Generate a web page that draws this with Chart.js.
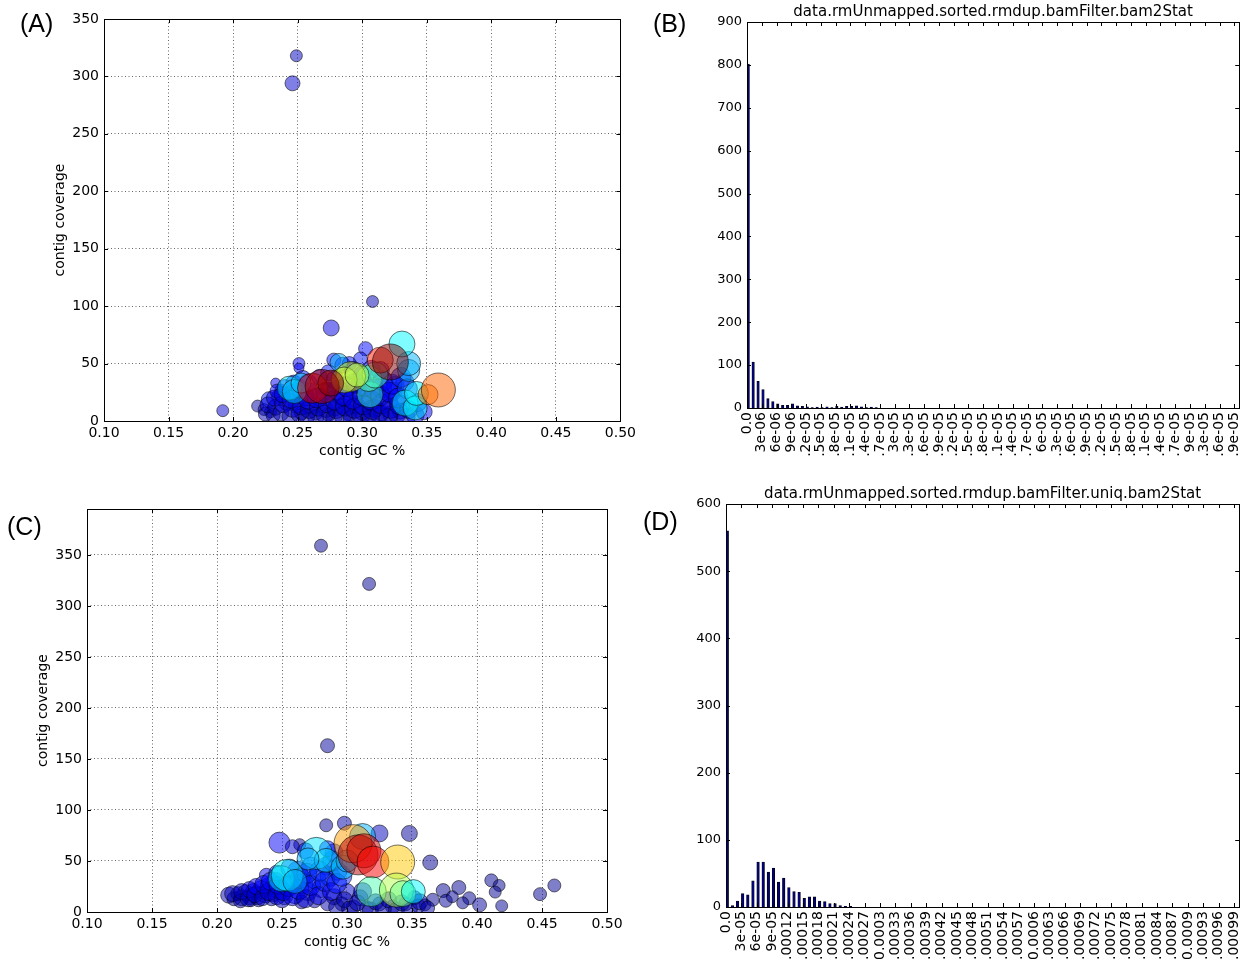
<!DOCTYPE html>
<html><head><meta charset="utf-8">
<script src="https://cdn.jsdelivr.net/npm/chart.js@4.4.0/dist/chart.umd.min.js"></script>
<style>
html,body{margin:0;padding:0;background:#fff;overflow:hidden;width:1250px;height:961px;position:relative;}
canvas{position:absolute;}
.lbl{position:absolute;font-family:"Liberation Sans",Arial,sans-serif;font-size:25px;line-height:1;color:#000;}
</style></head><body>
<canvas id="cA" width="640" height="470" style="left:0;top:0"></canvas>
<canvas id="cB" width="620" height="457" style="left:640px;top:0"></canvas>
<canvas id="cC" width="640" height="481" style="left:0;top:480px"></canvas>
<canvas id="cD" width="620" height="481" style="left:640px;top:480px"></canvas>
<div class="lbl" style="left:20px;top:11px">(A)</div>
<div class="lbl" style="left:653px;top:11px">(B)</div>
<div class="lbl" style="left:7px;top:514px">(C)</div>
<div class="lbl" style="left:643px;top:509px">(D)</div>
<script>
// ---------- Panel A: contig GC % vs coverage ----------
const gcA  = [0.192,0.246,0.249,0.308,0.276,
  0.219,0.224,0.229,0.233,0.237,0.228,0.236,0.242,0.251,0.251,0.253,0.249,0.259,0.264,0.272,0.279,0.274,0.285,0.290,0.295,0.300,0.305,0.310,0.315,0.3205,0.322,0.324,0.3295,0.315,0.3026,0.278,0.285,0.2987,0.3256,0.333,0.274,0.295,0.285,0.267,0.256,0.246,0.290,
  0.225,0.227, 0.231,0.233,0.232,0.234, 0.237,0.239,0.238,0.240, 0.244,0.246,0.245,0.247, 0.251,0.253,0.252,0.254, 0.257,0.259,0.258,0.260,0.258,
  0.264,0.266,0.265,0.267, 0.271,0.273,0.272,0.274, 0.278,0.280,0.279,0.281,0.279, 0.285,0.287,0.286,0.288,
  0.292,0.294,0.293,0.295,0.293, 0.299,0.301,0.300,0.302,0.300, 0.306,0.308,0.307,0.309,0.307, 0.313,0.315,0.314,0.316,0.314,
  0.320,0.322,0.321,0.323, 0.327,0.329,0.328,0.330, 0.334,0.336,0.335, 0.341,0.343, 0.348,
  0.336,0.2436,0.2474,0.2526,0.282,0.336,0.3308,0.3333,0.341,0.342,0.351,0.359,0.306,0.305,0.310,0.291,0.286,0.296,0.2615,0.269,0.2756,0.314,0.3218];
const covA = [9,294,318,104,81,
  13,10,8,33,27,18.6,21,17,50,46,7,14,14,7,10,11.4,5.7,13,7,14,8.6,4,11,7,17,6,26,8.6,28.6,63,53,48.6,54,31,34,26,26,21,21,21,24,50,
  6,14, 5,12,20,26, 7,15,23,30, 4,11,19,33, 6,13,28,37, 4,10,18,25,33,
  3,12,20,38, 6,15,25,42, 3,10,18,27,36, 5,13,22,30,
  2,11,19,33,44, 5,14,22,30,40, 2,10,18,28,45, 6,15,22,35,44,
  3,11,25,32, 6,14,20,38, 3,10,28, 5,16, 8,
  44,28.6,25.7,33,51,50,67,15.7,11.4,24,23,27,23,37,40,38.6,35.7,40,28.6,30,33,53,51.4];
const sizeA = [6,7.5,6,6,8,
  6,6,6,5,6,8,8,9,6,5,7,8,9,7,8,8,7,8,8,9,9,8,9,8,9,8,9,8,10,7,7,8,7,9,9,9,10,10,9,9,9,7,
  7,8, 7,8,8,7, 8,9,8,7, 8,9,9,8, 8,9,9,8, 8,9,9,9,9,
  8,9,10,8, 9,9,10,8, 8,9,10,10,9, 9,10,10,10,
  9,10,10,10,9, 9,10,10,10,9, 9,10,10,10,9, 9,10,10,10,9,
  9,10,10,10, 9,10,10,10, 9,9,10, 9,9, 8,
  11,12,12,10,9,12,13,13,12,12,10,17,13,13,13,15,13,12,15,17,13,13,18];
const colA = [0.075,0.075,0.06,0.05,0.1,
  0.04,0.05,0.04,0.12,0.15,0.15,0.14,0.13,0.12,0.12,0.06,0.12,0.13,0.06,0.08,0.1,0.05,0.12,0.08,0.13,0.1,0.06,0.12,0.09,0.14,0.08,0.15,0.1,0.15,0.13,0.14,0.15,0.14,0.16,0.18,0.14,0.15,0.14,0.14,0.13,0.13,0.14,
  0.05,0.09, 0.05,0.07,0.1,0.12, 0.06,0.09,0.11,0.13, 0.05,0.08,0.1,0.13, 0.06,0.09,0.12,0.14, 0.05,0.07,0.1,0.11,0.13,
  0.05,0.08,0.1,0.13, 0.06,0.09,0.11,0.14, 0.05,0.07,0.1,0.11,0.13, 0.06,0.09,0.1,0.12,
  0.05,0.07,0.1,0.12,0.14, 0.06,0.09,0.1,0.12,0.14, 0.05,0.07,0.1,0.11,0.14, 0.07,0.09,0.1,0.13,0.15,
  0.06,0.09,0.11,0.13, 0.08,0.1,0.12,0.16, 0.08,0.11,0.2, 0.1,0.2, 0.12,
  0.3,0.35,0.33,0.32,0.3,0.3,0.37,0.37,0.38,0.36,0.75,0.78,0.42,0.47,0.44,0.6,0.58,0.55,0.9,0.95,0.98,0.85,1.0];

// ---------- Panel C: contig GC % vs coverage (uniq) ----------
const gcC  = [0.280,0.317,0.285,0.348,0.364,0.4595,0.4485,0.411,0.417,0.414,0.419,0.386,0.374,0.394,0.402,0.389,0.376,0.360,0.381,0.366,0.284,0.298,0.2636,0.325,0.248,0.258,
  0.209,0.213,0.216,0.219,0.222,0.225,0.228,0.231,0.234,0.237,0.240,0.243,0.245,0.248,0.238,0.226,0.232,0.242,0.252,0.256,0.260,0.262,0.266,0.270,0.272,0.276,0.280,0.284,0.287,0.290,0.293,0.296,0.300,0.305,0.310,0.315,0.325,0.335,0.345,0.355,0.352,0.285,0.275,0.265,
  0.212,0.218,0.219,0.224,0.225,0.229,0.230,0.235,0.236,0.240,0.241,0.246,0.247,0.246,0.250,0.251,0.255,0.256,0.258,0.263,0.264,0.268,0.269,0.272,0.278,0.279,0.283,0.288,0.289,0.292,0.296,
  0.268,0.290,0.285,
  0.292,0.298,0.302,0.308,0.312,0.318,0.322,0.328,0.332,0.338,0.342,0.348,0.356,0.362,
  0.2495,0.254,0.260,0.2764,0.284,0.270,0.297,0.300,0.312,0.3046,0.3085,0.313,0.320,0.339,0.3187,0.338,0.343,0.351];
const covC = [359,321.6,163,77,48.5,26,17.5,31,26,19.5,6,24,21,13.5,7,9,11,7,15,12,85,87,66,77,68,64,
  16.5,13,18,14,19,15,20,16,22,18,25,19,30,22,36,11,12,13,15,27,18,40,28,20,45,32,23,45,35,15,40,8,20,5,14,4,8,5,8,6,14,8,11,10,
  18,11,20,13,22,17,25,14,27,20,30,16,26,38,12,20,25,43,15,22,33,13,38,26,16,40,30,20,50,28,35,
  60,58,62,
  5,12,3,9,20,2,10,3,12,2,9,3,10,4,
  32.7,36,30,57.5,50.6,52,44,50,74,67,56,60,49,49,20,21.5,18,20];
const sizeC = [6.5,6.5,7,8,7.5,6.5,6.5,6.5,6,6,6,7,7,6.5,7,6,6.5,6,6,6.5,6.5,7,6,8.5,10.5,7,
  8,7,7,8,8,8,8,9,9,9,9,9,9,10,7,6,7,7,8,10,10,10,10,9,9,10,9,9,10,8,9,7,8,7,8,7,7,7,7,7,7,7,7,7,
  8,7,8,8,8,8,8,8,9,9,9,9,9,8,8,9,10,9,9,10,10,9,10,10,9,10,10,9,10,10,10,
  8,9,8,
  8,8,8,8,9,8,8,8,8,8,8,8,8,7,
  13,16,12,16,12,11,12,11,13,19,20,17,16,17,15,17,13,12];
const colC = [0.02,0.02,0.03,0.03,0.02,0.02,0.02,0.02,0.02,0.02,0.02,0.02,0.02,0.02,0.03,0.02,0.03,0.04,0.02,0.02,0.03,0.04,0.03,0.06,0.12,0.08,
  0.05,0.03,0.05,0.06,0.08,0.07,0.1,0.09,0.1,0.1,0.12,0.11,0.13,0.13,0.12,0.04,0.04,0.06,0.1,0.15,0.15,0.16,0.17,0.14,0.16,0.16,0.14,0.17,0.18,0.08,0.18,0.05,0.08,0.05,0.07,0.05,0.05,0.05,0.05,0.05,0.05,0.05,0.05,0.06,
  0.06,0.04,0.08,0.06,0.1,0.08,0.12,0.07,0.12,0.1,0.13,0.09,0.13,0.15,0.07,0.11,0.14,0.16,0.1,0.13,0.15,0.08,0.16,0.14,0.1,0.17,0.15,0.1,0.18,0.14,0.16,
  0.12,0.15,0.14,
  0.04,0.05,0.04,0.05,0.07,0.04,0.05,0.04,0.06,0.04,0.05,0.04,0.05,0.04,
  0.36,0.38,0.3,0.35,0.33,0.3,0.33,0.3,0.3,0.72,0.95,0.92,0.88,0.68,0.45,0.55,0.48,0.37];

// ---------- Panel B: histogram counts (bin width 1e-06) ----------
const countsB = [802,107,62,43,22,15,10,6,6,10,5,4,3,1,2,1,3,1,4,2,4,4,5,3,1,2,1,0,0,0,
  0,0,0,0,0,0,0,0,0,0,0,0,0,0,0,0,0,0,0,0,0,0,0,0,0,0,0,0,0,0,
  0,0,0,0,0,0,0,0,0,0,0,0,0,0,0,0,0,0,0,0,0,0,0,0,0,0,0,0,0,0,
  0,0,0,0,0,0,0,0,0,0];
const tickLabelsB = ['0.0','3e-06','6e-06','9e-06','1.2e-05','1.5e-05','1.8e-05','2.1e-05','2.4e-05','2.7e-05','3e-05','3.3e-05','3.6e-05','3.9e-05','4.2e-05','4.5e-05','4.8e-05','5.1e-05','5.4e-05','5.7e-05','6e-05','6.3e-05','6.6e-05','6.9e-05','7.2e-05','7.5e-05','7.8e-05','8.1e-05','8.4e-05','8.7e-05','9e-05','9.3e-05','9.6e-05','9.9e-05'];
const titleB = 'data.rmUnmapped.sorted.rmdup.bamFilter.bam2Stat';

// ---------- Panel D: histogram counts (bin width 1e-05) ----------
const countsD = [560,2,9,20,18,39,67,67,52,58,37,43,29,23,22,13,15,15,9,8,5,5,2,1,1,0,0,0,0,0,
  0,0,0,0,0,0,0,0,0,0,0,0,0,0,0,0,0,0,0,0,0,0,0,0,0,0,0,0,0,0,
  0,0,0,0,0,0,0,0,0,0,0,0,0,0,0,0,0,0,0,0,0,0,0,0,0,0,0,0,0,0,
  0,0,0,0,0,0,0,0,0,0];
const tickLabelsD = ['0.0','3e-05','6e-05','9e-05','0.00012','0.00015','0.00018','0.00021','0.00024','0.00027','0.0003','0.00033','0.00036','0.00039','0.00042','0.00045','0.00048','0.00051','0.00054','0.00057','0.0006','0.00063','0.00066','0.00069','0.00072','0.00075','0.00078','0.00081','0.00084','0.00087','0.0009','0.00093','0.00096','0.00099'];
const titleD = 'data.rmUnmapped.sorted.rmdup.bamFilter.uniq.bam2Stat';

Chart.defaults.font.family = '"DejaVu Sans", sans-serif';
Chart.defaults.color = '#000';
Chart.defaults.animation = false;

function clip01(v){ return Math.max(0, Math.min(1, v)); }
function jet(v){
  const r = clip01(1.5 - Math.abs(4*v - 3));
  const g = clip01(1.5 - Math.abs(4*v - 2));
  const b = clip01(1.5 - Math.abs(4*v - 1));
  return `rgba(${Math.round(r*255)},${Math.round(g*255)},${Math.round(b*255)},0.5)`;
}

const framePlugin = {
  id: 'frame',
  afterDraw(chart, args, opts) {
    const {ctx, chartArea: a} = chart;
    const xs = chart.scales.x, ys = chart.scales.y;
    const len = 4;
    ctx.save();
    ctx.strokeStyle = '#000';
    ctx.lineWidth = 1;
    ctx.beginPath();
    xs.ticks.forEach((t, i) => {
      if (opts.every && (i % opts.every !== 0 || i > opts.maxIndex)) return;
      const px = Math.round(xs.getPixelForTick(i)) + 0.5;
      ctx.moveTo(px, a.bottom); ctx.lineTo(px, a.bottom - len);
      ctx.moveTo(px, a.top); ctx.lineTo(px, a.top + len);
    });
    ys.ticks.forEach((t, i) => {
      const py = Math.round(ys.getPixelForTick(i)) + 0.5;
      ctx.moveTo(a.left, py); ctx.lineTo(a.left + len, py);
      ctx.moveTo(a.right, py); ctx.lineTo(a.right - len, py);
    });
    ctx.stroke();
    ctx.strokeRect(Math.round(a.left) + 0.5, Math.round(a.top) + 0.5, Math.round(a.right - a.left), Math.round(a.bottom - a.top));
    ctx.restore();
  }
};

function scatterChart(id, gc, cov, size, col, cfg) {
  return new Chart(document.getElementById(id), {
    type: 'bubble',
    data: { datasets: [{
      data: gc.map((x, i) => ({x: x, y: cov[i], r: size[i]})),
      backgroundColor: col.map(jet),
      borderColor: 'rgba(0,0,0,0.55)',
      borderWidth: 1,
      hoverRadius: 0,
      clip: 0
    }]},
    options: {
      responsive: false, animation: false, events: [],
      layout: { padding: cfg.pad },
      plugins: { legend: {display: false}, tooltip: {enabled: false}, frame: {} },
      scales: {
        x: {
          type: 'linear', min: 0.1, max: 0.5,
          ticks: { stepSize: 0.05, callback: v => v.toFixed(2), font: {size: 14}, padding: 4, maxRotation: 0, autoSkip: false },
          grid: { color: 'rgba(0,0,0,0.6)', lineWidth: 1, drawTicks: false },
          border: { display: false, dash: [1, 2.5] },
          title: { display: true, text: 'contig GC %', font: {size: 14}, padding: 0 },
          afterFit: s => { s.height = cfg.xh; }
        },
        y: {
          type: 'linear', min: 0, max: cfg.ymax,
          ticks: { stepSize: 50, font: {size: 14}, padding: 5 },
          afterBuildTicks: s => { s.ticks = s.ticks.filter(t => t.value % 50 === 0); },
          grid: { color: 'rgba(0,0,0,0.6)', lineWidth: 1, drawTicks: false },
          border: { display: false, dash: [1, 2.5] },
          title: { display: true, text: 'contig coverage', font: {size: 14}, padding: 0 },
          afterFit: s => { s.width = cfg.yw; }
        }
      }
    },
    plugins: [framePlugin]
  });
}

function barChart(id, counts, tickLabels, title, cfg) {
  const bins = Array.from({length: counts.length + 1}, (_, i) => i);
  return new Chart(document.getElementById(id), {
    type: 'bar',
    data: { labels: bins, datasets: [
      { data: [], backgroundColor: 'rgba(0,0,0,0)', categoryPercentage: 1, barPercentage: 1 },
      { data: counts, backgroundColor: '#000080', borderColor: '#000', borderWidth: 0.7,
        categoryPercentage: 1, barPercentage: 1 }
    ]},
    options: {
      responsive: false, animation: false, events: [],
      layout: { padding: cfg.pad },
      plugins: {
        legend: {display: false}, tooltip: {enabled: false},
        title: { display: true, text: title, fullSize: false, color: '#000', font: {size: 15, weight: 'normal'}, padding: cfg.tpad },
        frame: { every: 3, maxIndex: counts.length - 1 }
      },
      scales: {
        x: {
          type: 'category', offset: false,
          grid: { display: false, drawTicks: false }, border: { display: false },
          ticks: { autoSkip: false, minRotation: 90, maxRotation: 90, padding: 4, font: {size: 14},
            callback: (v, i) => (i % 3 === 0 && i / 3 < tickLabels.length) ? tickLabels[i / 3] : '' },
          afterFit: s => { s.height = cfg.xh; }
        },
        y: {
          min: 0, max: cfg.ymax,
          ticks: { stepSize: 100, padding: 5, font: {size: 13} },
          grid: { display: false, drawTicks: false }, border: { display: false },
          afterFit: s => { s.width = cfg.yw; }
        }
      }
    },
    plugins: [framePlugin]
  });
}

scatterChart('cA', gcA, covA, sizeA, colA, { pad: {left: 51.6, right: 16, top: 18, bottom: 10.6}, xh: 38.4, yw: 52.4, ymax: 350 });
scatterChart('cC', gcC, covC, sizeC, colC, { pad: {left: 35.2, right: 33, top: 29, bottom: 10.6}, xh: 38.4, yw: 51.8, ymax: 395 });
barChart('cB', countsB, tickLabelsB, titleB, { pad: {left: 0, right: 15, top: 0, bottom: 0}, tpad: {top: 3, bottom: 1}, xh: 49, yw: 107, ymax: 900 });
barChart('cD', countsD, tickLabelsD, titleD, { pad: {left: 0, right: 13, top: 0, bottom: 0}, tpad: {top: 5, bottom: 1}, xh: 54, yw: 86, ymax: 600 });
</script>
</body></html>
